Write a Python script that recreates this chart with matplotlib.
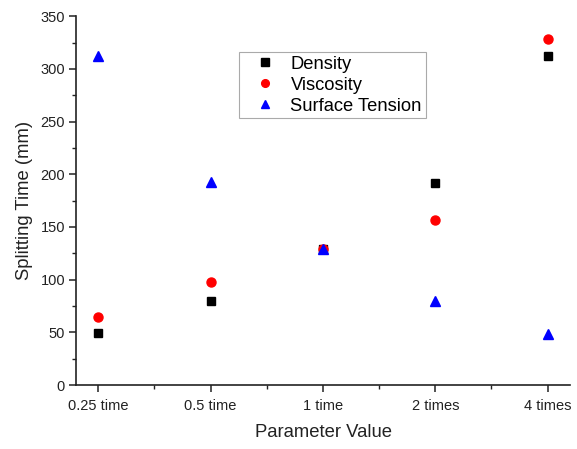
import matplotlib
matplotlib.use("Agg")
import matplotlib.pyplot as plt
from matplotlib.ticker import MultipleLocator

plt.rcParams['font.family'] = ['Liberation Sans', 'DejaVu Sans']

categories = ["0.25 time", "0.5 time", "1 time", "2 times", "4 times"]
density = [49, 80, 129, 192, 312]
viscosity = [65, 98, 129, 157, 328]
surface_tension = [312, 193, 129, 80, 48]

fig = plt.figure(figsize=(5.77, 4.49), dpi=100)
ax = fig.add_axes([0.132, 0.1425, 0.856, 0.8215])

x = list(range(1, len(categories) + 1))
ax.plot(x, density, linestyle='none', marker='s', color='black', markersize=6, label='Density')
ax.plot(x, viscosity, linestyle='none', marker='o', color='red', markersize=6.5, label='Viscosity')
ax.plot(x, surface_tension, linestyle='none', marker='^', color='blue', markersize=7.5, label='Surface Tension')

ax.set_xlim(0.804, 5.2)
ax.set_ylim(0, 350)
ax.set_xticks(x)
ax.set_xticklabels(categories)
ax.xaxis.set_minor_locator(MultipleLocator(0.5))
ax.yaxis.set_major_locator(MultipleLocator(50))
ax.yaxis.set_minor_locator(MultipleLocator(25))

for side in ('top', 'right'):
    ax.spines[side].set_visible(False)
for side in ('left', 'bottom'):
    ax.spines[side].set_linewidth(1.2)
    ax.spines[side].set_color('#222222')

ax.tick_params(which='major', direction='out', length=5, width=1.1, labelsize=10.5, colors='#222222', pad=3)
ax.tick_params(which='minor', direction='out', length=3, width=1.0, colors='#222222')
ax.tick_params(axis='x', which='major', pad=5)

ax.set_xlabel('Parameter Value', fontsize=13.3, labelpad=8, color='#222222')
ax.set_ylabel('Splitting Time (mm)', fontsize=13.3, labelpad=5, color='#222222')

leg = ax.legend(loc='upper left', bbox_to_anchor=(0.33, 0.903), borderaxespad=0, fontsize=13.2,
                frameon=True, fancybox=False, edgecolor='#aaaaaa', framealpha=1,
                borderpad=0.2, handletextpad=0.2, labelspacing=0.22, handlelength=2.4,
                markerscale=0.85)
leg.get_frame().set_linewidth(0.8)

fig.savefig('out.png', dpi=100)
